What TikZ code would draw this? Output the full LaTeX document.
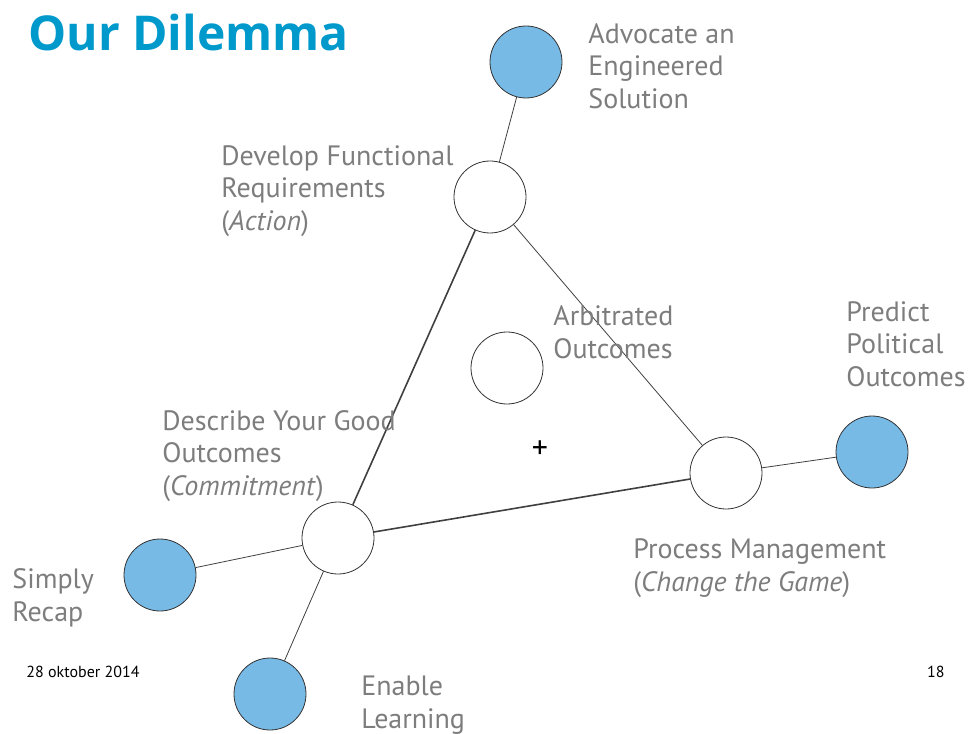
\documentclass[tikz,border=0pt]{standalone}
\usepackage{fontspec}
\setmainfont{PT Sans}
\newfontfamily\titlefont{Open Sans}
\usepackage{tikz}
\usetikzlibrary{positioning}
\definecolor{titleblue}{RGB}{0,153,204}
\definecolor{ballblue}{RGB}{120,186,230}
\definecolor{labelgray}{RGB}{125,125,125}
\tikzset{every picture/.style={line width=0.6pt}}

\begin{document}
\begin{tikzpicture}[x=0.75pt,y=-0.75pt,
    ball/.style={circle,draw=black!80,fill=white,minimum size=54pt,inner sep=0pt},
    goal/.style={ball,fill=ballblue},
    lbl/.style={anchor=west,align=left,text=labelgray,inner sep=0pt,
      font=\fontsize{21}{24.4}\selectfont},
    link/.style={draw=black!75},
    strong/.style={draw=black!75,line width=1.2pt}]
  \useasboundingbox (0,0) rectangle (970,734);

  % circles
  \node[goal] (advocate) at (526,62) {};
  \node[ball] (develop) at (490,197) {};
  \node[ball] (arbitrate) at (507,368) {};
  \node[ball] (process) at (726,473) {};
  \node[goal] (predict) at (872,452) {};
  \node[ball] (describe) at (338,538) {};
  \node[goal] (recap) at (160,575) {};
  \node[goal] (learn) at (270,694) {};

  % connectors
  \draw[link] (advocate) -- (develop);
  \draw[strong] (develop) -- (describe);
  \draw[link] (develop) -- (process);
  \draw[strong] (describe) -- (process);
  \draw[link] (process) -- (predict);
  \draw[link] (describe) -- (recap);
  \draw[link] (describe) -- (learn);

  \node[font=\fontsize{24}{24}\selectfont] (centre) at (540,450) {+};

  % labels
  \node[anchor=west,inner sep=0pt,text=titleblue,font=\titlefont\bfseries\fontsize{36}{36}\selectfont] (title) at (28,33) {Our Dilemma};
  \path (588,66) node[lbl] (advocatetext) {Advocate an\\Engineered\\Solution};
  \path (221,191) node[lbl] (developtext) {Develop Functional\\Requirements\\(\textit{Action})};
  \path (553,332) node[lbl] (arbitratetext) {Arbitrated\\Outcomes};
  \path (846,344) node[lbl] (predicttext) {Predict\\Political\\Outcomes};
  \path (162,456) node[lbl] (describetext) {Describe Your Good\\Outcomes\\(\textit{Commitment})};
  \path (633,568) node[lbl] (processtext) {Process Management\\(\textit{Change the Game})};
  \path (12,598) node[lbl] (recaptext) {Simply\\Recap};
  \path (361,705) node[lbl] (learntext) {Enable\\Learning};

  % footer
  \path (26,672) node[anchor=west,inner sep=0pt,font=\fontsize{12}{12}\selectfont] (date) {28 oktober 2014};
  \path (945,672) node[anchor=east,inner sep=0pt,font=\fontsize{12}{12}\selectfont] (page) {18};
\end{tikzpicture}
\end{document}
